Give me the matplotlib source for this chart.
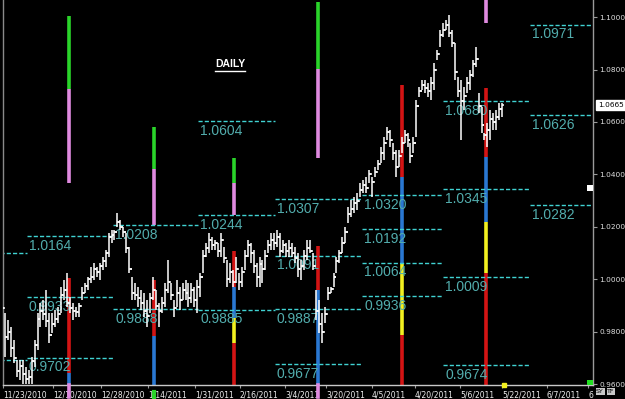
import matplotlib
matplotlib.use("Agg")
import numpy as np
import matplotlib.pyplot as plt
import matplotlib.transforms as mtransforms
from matplotlib.patches import Rectangle
from matplotlib.lines import Line2D

# ---------------- data ----------------
highs = [
    0.9933, 0.9872, 0.9846, 0.9819, 0.9770, 0.9693, 0.9693, 0.9693, 0.9667, 0.9655,
    0.9705, 0.9770, 0.9872, 0.9911, 0.9922, 0.9960, 0.9872, 0.9872, 0.9884, 0.9895,
    0.9972, 0.9998, 1.0025, 0.9933, 0.9911, 0.9895, 0.9911, 0.9972, 0.9987, 1.0010,
    1.0048, 1.0063, 1.0048, 1.0063, 1.0086, 1.0113, 1.0177, 1.0189, 1.0189, 1.0253,
    1.0227, 1.0200, 1.0177, 1.0124, 1.0010, 0.9987, 0.9972, 0.9960, 0.9949, 0.9922,
    0.9949, 1.0010, 0.9960, 0.9911, 0.9933, 0.9987, 1.0074, 0.9987, 0.9922,
    0.9998, 0.9972, 0.9987, 0.9998, 0.9987, 0.9987, 0.9972, 0.9998, 1.0025, 1.0113,
    1.0139, 1.0177, 1.0162, 1.0151, 1.0139, 1.0177, 1.0124, 1.0074, 1.0063, 1.0036,
    1.0086, 1.0025, 1.0048, 1.0113, 1.0151, 1.0139, 1.0113, 1.0063,
    1.0086, 1.0074, 1.0113, 1.0151, 1.0177, 1.0177, 1.0189, 1.0177, 1.0151, 1.0139,
    1.0151, 1.0139, 1.0124, 1.0101, 1.0074, 1.0113, 1.0151, 1.0151, 1.0101, 0.9960,
    0.9922, 0.9872, 0.9895, 0.9972, 0.9972, 1.0025, 1.0086, 1.0113, 1.0162, 1.0200,
    1.0276, 1.0303, 1.0314, 1.0330, 1.0368, 1.0379, 1.0391, 1.0417, 1.0391, 1.0429,
    1.0455, 1.0505, 1.0543, 1.0581, 1.0570, 1.0520, 1.0493, 1.0493, 1.0543, 1.0570,
    1.0558, 1.0520, 1.0543, 1.0684, 1.0734, 1.0760, 1.0760, 1.0749,
    1.0772, 1.0825, 1.0875, 1.0951, 1.0977, 1.0989, 1.1008, 1.0951, 1.0901, 1.0772,
    1.0760, 1.0734, 1.0772, 1.0798, 1.0836, 1.0886, 1.0711, 1.0657, 1.0558, 1.0596,
    1.0646, 1.0634, 1.0646, 1.0673, 1.0673,
]
lows = [
    0.9872, 0.9705, 0.9770, 0.9705, 0.9682, 0.9629, 0.9617, 0.9600, 0.9600, 0.9600,
    0.9600, 0.9667, 0.9732, 0.9819, 0.9846, 0.9819, 0.9758, 0.9796, 0.9819, 0.9834,
    0.9872, 0.9922, 0.9895, 0.9872, 0.9846, 0.9857, 0.9857, 0.9922, 0.9949, 0.9960,
    0.9987, 0.9998, 1.0010, 0.9998, 1.0036, 1.0048, 1.0086, 1.0139, 1.0151, 1.0200,
    1.0189, 1.0162, 1.0101, 1.0025, 0.9922, 0.9922, 0.9895, 0.9884, 0.9857, 0.9819,
    0.9872, 0.9922, 0.9884, 0.9819, 0.9872, 0.9895, 0.9949, 0.9922, 0.9857,
    0.9895, 0.9884, 0.9922, 0.9922, 0.9895, 0.9911, 0.9895, 0.9872, 0.9933, 1.0025,
    1.0086, 1.0101, 1.0113, 1.0113, 1.0086, 1.0086, 1.0063, 0.9972, 0.9987, 0.9972,
    0.9987, 0.9960, 0.9972, 1.0036, 1.0086, 1.0063, 1.0025, 0.9972,
    0.9972, 0.9987, 1.0036, 1.0101, 1.0113, 1.0113, 1.0124, 1.0086, 1.0101, 1.0086,
    1.0086, 1.0086, 1.0063, 1.0010, 0.9998, 1.0036, 1.0074, 1.0101, 1.0036, 0.9846,
    0.9796, 0.9758, 0.9834, 0.9922, 0.9949, 0.9972, 1.0025, 1.0063, 1.0101, 1.0139,
    1.0215, 1.0238, 1.0253, 1.0265, 1.0314, 1.0330, 1.0330, 1.0368, 1.0314, 1.0391,
    1.0417, 1.0444, 1.0455, 1.0532, 1.0505, 1.0455, 1.0391, 1.0429, 1.0482, 1.0520,
    1.0505, 1.0444, 1.0482, 1.0543, 1.0695, 1.0722, 1.0711, 1.0695,
    1.0684, 1.0722, 1.0836, 1.0886, 1.0924, 1.0951, 1.0924, 1.0886, 1.0760, 1.0695,
    1.0532, 1.0646, 1.0711, 1.0722, 1.0772, 1.0810, 1.0634, 1.0558, 1.0532, 1.0505,
    1.0532, 1.0570, 1.0570, 1.0608, 1.0619,
]
closes = [
    0.9890, 0.9780, 0.9800, 0.9740, 0.9700, 0.9650, 0.9670, 0.9640, 0.9620, 0.9630,
    0.9690, 0.9750, 0.9850, 0.9880, 0.9870, 0.9840, 0.9790, 0.9830, 0.9850, 0.9870,
    0.9940, 0.9960, 0.9910, 0.9890, 0.9880, 0.9875, 0.9900, 0.9950, 0.9975, 1.0000,
    1.0010, 1.0040, 1.0030, 1.0050, 1.0070, 1.0100, 1.0160, 1.0170, 1.0180, 1.0220,
    1.0200, 1.0180, 1.0120, 1.0040, 0.9950, 0.9940, 0.9930, 0.9910, 0.9880, 0.9860,
    0.9930, 0.9960, 0.9900, 0.9880, 0.9910, 0.9960, 0.9990, 0.9940, 0.9890,
    0.9950, 0.9920, 0.9960, 0.9950, 0.9930, 0.9960, 0.9920, 0.9970, 1.0010, 1.0090,
    1.0120, 1.0150, 1.0130, 1.0140, 1.0110, 1.0150, 1.0080, 1.0000, 1.0030, 0.9990,
    1.0040, 0.9990, 1.0030, 1.0090, 1.0130, 1.0100, 1.0050, 1.0010,
    1.0060, 1.0040, 1.0090, 1.0130, 1.0150, 1.0140, 1.0160, 1.0110, 1.0130, 1.0110,
    1.0120, 1.0100, 1.0080, 1.0040, 1.0050, 1.0090, 1.0120, 1.0110, 1.0050, 0.9880,
    0.9830, 0.9800, 0.9870, 0.9950, 0.9965, 1.0010, 1.0070, 1.0100, 1.0140, 1.0180,
    1.0250, 1.0270, 1.0290, 1.0300, 1.0340, 1.0360, 1.0350, 1.0400, 1.0370, 1.0410,
    1.0440, 1.0480, 1.0520, 1.0560, 1.0530, 1.0480, 1.0430, 1.0470, 1.0520, 1.0550,
    1.0530, 1.0470, 1.0520, 1.0660, 1.0720, 1.0740, 1.0730, 1.0720,
    1.0750, 1.0800, 1.0860, 1.0930, 1.0950, 1.0970, 1.0940, 1.0900, 1.0790, 1.0720,
    1.0680, 1.0700, 1.0750, 1.0780, 1.0820, 1.0840, 1.0660, 1.0590, 1.0550, 1.0570,
    1.0610, 1.0600, 1.0620, 1.0650, 1.0665,
]
opens = [0.9910] + closes[:-1]

# pivot-level groups: bar-index boundaries and level values
level_bounds = [-0.7, 8.4, 37.5, 66.2, 92.2, 121.6, 149.0, 178.4, 199.7]
levels = [
    [1.0101, 0.9693],
    [1.0164, 0.9933, 0.9702],
    [1.0208, 0.9888],
    [1.0604, 1.0244, 0.9885],
    [1.0307, 1.0091, 0.9887, 0.9677],
    [1.0320, 1.0192, 1.0064, 0.9936],
    [1.0680, 1.0345, 1.0009, 0.9674],
    [1.0971, 1.0626, 1.0282],
]

# coloured range columns
col_x = [22.6, 51.4, 78.4, 106.8, 135.1, 163.5]
col_segments = [
    [(1.1004, 1.0726, "green"), (1.0726, 1.0368, "pink"),
     (1.0006, 0.9644, "red"), (0.9644, 0.9500, "blue")],
    [(1.0581, 1.0421, "green"), (1.0421, 1.0208, "pink"),
     (0.9998, 0.9785, "red"), (0.9785, 0.9500, "blue")],
    [(1.0463, 1.0368, "green"), (1.0368, 1.0244, "pink"),
     (1.0109, 0.9972, "red"), (0.9972, 0.9854, "blue"),
     (0.9854, 0.9758, "yellow"), (0.9758, 0.9500, "red")],
    [(1.1057, 1.0802, "green"), (1.0802, 1.0463, "pink"),
     (1.0128, 0.9960, "red"), (0.9960, 0.9500, "blue")],
    [(1.0741, 1.0391, "red"), (1.0391, 1.0063, "blue"),
     (1.0063, 0.9789, "yellow"), (0.9789, 0.9500, "red")],
    [(1.1100, 1.0977, "pink"), (1.0730, 1.0467, "red"),
     (1.0467, 1.0219, "blue"), (1.0219, 1.0025, "yellow"),
     (1.0025, 0.9500, "red")],
]
col_axis_marks = ["pink", "green", None, "pink", None, None]
palette = {"green": "#2ad42a", "pink": "#e08ae0", "red": "#d41414",
           "blue": "#2a78d2", "yellow": "#f2f020"}

date_labels = ["11/23/2010", "12/10/2010", "12/28/2010", "1/14/2011", "1/31/2011",
               "2/16/2011", "3/4/2011", "3/20/2011", "4/5/2011", "4/20/2011",
               "5/6/2011", "5/22/2011", "6/7/2011", "6"]
date_ticks = [0.34, 17.2, 33.4, 49.3, 65.2, 80.4, 95.6, 109.5, 125.0, 139.5,
              154.7, 168.9, 184.1, 198.0]
price_ticks = [0.96, 0.98, 1.00, 1.02, 1.04, 1.06, 1.08, 1.10]
last_price = 1.0665

# ---------------- figure ----------------
W, H = 625, 399
fig = plt.figure(figsize=(W / 100, H / 100), dpi=100, facecolor="black")
ax = fig.add_axes([3 / W, 14 / H, 590 / W, 385 / H], facecolor="black")

PX0, STEP = 2.0, 2.96
ax.set_xlim((3 - PX0) / STEP, (593 - PX0) / STEP)
ax.set_ylim(0.9598, 1.10648)

narrow = ["Liberation Sans Narrow", "DejaVu Sans"]
lab_font = ["Liberation Sans", "DejaVu Sans"]

# columns
for x, segs in zip(col_x, col_segments):
    for top, bot, c in segs:
        ax.vlines(x, bot, top, colors=palette[c], lw=2.6, zorder=1)

blend = mtransforms.blended_transform_factory(ax.transData, ax.transAxes)
for x, c in zip(col_x, col_axis_marks):
    if c == "pink":
        ax.add_line(Line2D([x, x], [0, -0.031], color=palette[c], lw=2.6,
                           transform=blend, clip_on=False, zorder=5))
    elif c == "green":
        ax.add_line(Line2D([x, x], [-0.018, -0.031], color=palette[c], lw=3.0,
                           transform=blend, clip_on=False, zorder=5))

# pivot levels
for g, vals in enumerate(levels):
    x0, x1 = level_bounds[g], level_bounds[g + 1]
    for v in vals:
        ax.hlines(v, x0, x1, colors="#40d2d2", lw=1.0,
                  linestyles=(0, (3, 1.5)), zorder=2)
        if g > 0:
            ax.annotate(f"{v:.4f}", xy=(x0, v), xytext=(1.5, -2),
                        textcoords="offset points", ha="left", va="top",
                        color="#52adad", fontsize=10, family=lab_font, zorder=2)

# OHLC bars
idx = np.arange(len(highs))
ax.vlines(idx, lows, highs, colors="white", lw=1.1, zorder=3)
ax.hlines(opens, idx - 0.75, idx, colors="white", lw=1.1, zorder=3)
ax.hlines(closes, idx, idx + 0.75, colors="white", lw=1.1, zorder=3)

# last-bar marker on date axis
ax.plot([idx[-1] + 0.7], [0.0], marker="s", ms=3, color="#f2f020",
        transform=blend, clip_on=False, zorder=6)

# DAILY title
ax.text(0.385, 0.834, "DAILY", transform=ax.transAxes, color="white",
        fontsize=7.5, fontweight="bold", family=lab_font, ha="center", va="center")
ax.add_line(Line2D([0.359, 0.411], [0.816, 0.816], transform=ax.transAxes,
                   color="white", lw=1.0))

# axes styling
ax.spines["top"].set_visible(False)
ax.spines["left"].set_color("#8a8a8a")
ax.spines["right"].set_color("#9a9a9a")
ax.spines["bottom"].set_color("#c8c8c8")
for s in ["left", "right", "bottom"]:
    ax.spines[s].set_linewidth(1.0)

ax.yaxis.tick_right()
ax.set_yticks(price_ticks)
ax.set_yticklabels([f"{p:.4f}" for p in price_ticks])
ax.tick_params(axis="y", colors="#9a9a9a", labelcolor="#e0e0e0", length=3,
               width=0.8, pad=1.5, labelsize=5.3)
for t in ax.get_yticklabels():
    t.set_family(narrow)

ax.set_xticks(date_ticks)
ax.set_xticklabels(date_labels)
ax.tick_params(axis="x", colors="#9a9a9a", labelcolor="#f0f0f0", length=2,
               width=0.8, pad=2, labelsize=5.5)
for t in ax.get_xticklabels():
    t.set_family(narrow)
    t.set_horizontalalignment("left")

# last price box
tb = mtransforms.blended_transform_factory(ax.transAxes, ax.transData)
ax.text(1.009, last_price, "1.0665", transform=tb, ha="left", va="center",
        fontsize=5.3, family=narrow, color="black", clip_on=False, zorder=10,
        bbox=dict(boxstyle="square,pad=0.3", facecolor="white", edgecolor="white"))

# corner decorations
fig.patches.append(Rectangle((587 / W, 14 / H), 6 / W, 5 / H, transform=fig.transFigure,
                             facecolor="#22e022", edgecolor="none", zorder=21))
fig.patches.append(Rectangle((587 / W, (399 - 191) / H), 6 / W, 6 / H,
                             transform=fig.transFigure, facecolor="white",
                             edgecolor="none", zorder=21))
fig.text(600 / W, 7.5 / H, "SY", fontsize=4.5, family=narrow, color="black",
         ha="center", va="center", zorder=22,
         bbox=dict(boxstyle="square,pad=0.1", facecolor="#c8c8c8", edgecolor="none"))
fig.text(611 / W, 7.5 / H, "TF", fontsize=4.5, family=narrow, color="black",
         ha="center", va="center", zorder=22,
         bbox=dict(boxstyle="square,pad=0.1", facecolor="#c8c8c8", edgecolor="none"))

fig.savefig("out.png", dpi=100, facecolor="black")
